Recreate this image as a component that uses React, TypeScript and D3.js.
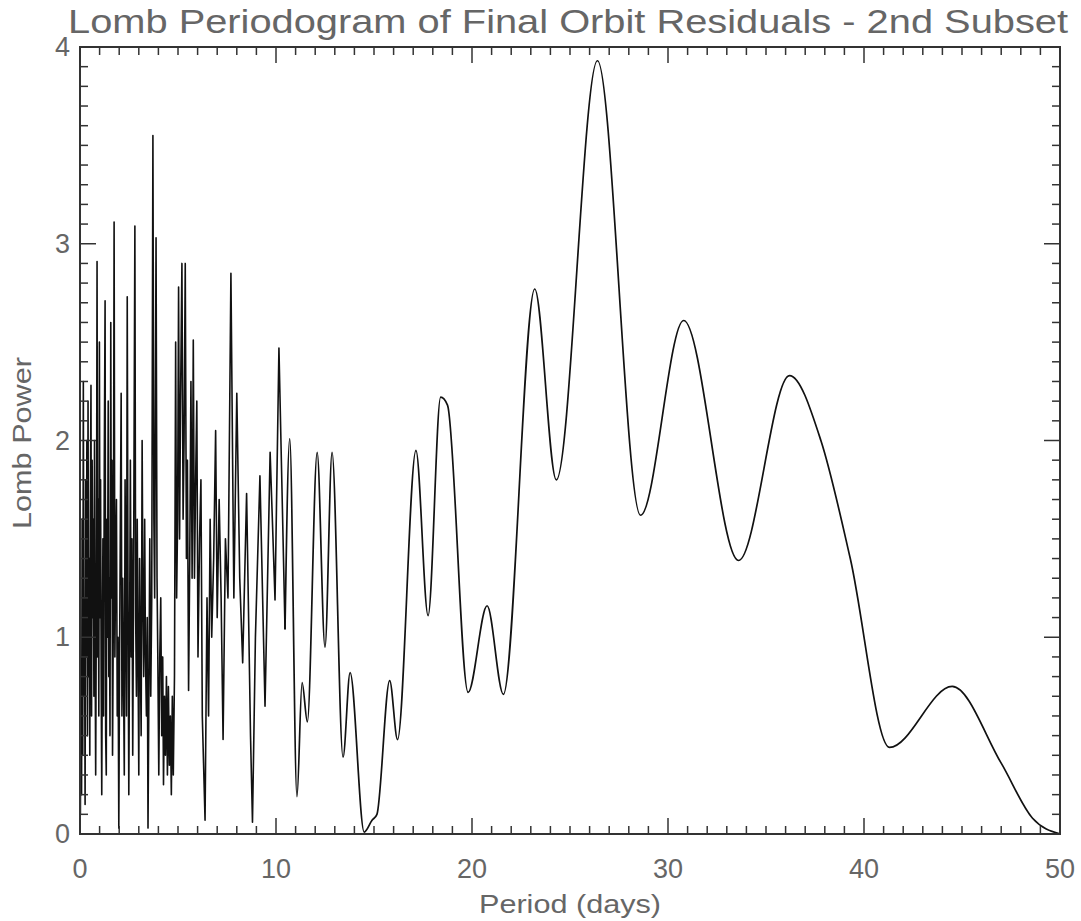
import React from "react";
import * as d3 from "d3";

const TITLE = "Lomb Periodogram of Final Orbit Residuals - 2nd Subset";
const X_LABEL = "Period (days)";
const Y_LABEL = "Lomb Power";
const X_TICKS = [0, 10, 20, 30, 40, 50];
const Y_TICKS = [0, 1, 2, 3, 4];

// Dense, noisy short-period part (period in days, Lomb power)
const densePeriods = [
  0.02, 0.05, 0.08, 0.11, 0.14, 0.17, 0.2, 0.23, 0.26, 0.29, 0.32, 0.35, 0.38, 0.41, 0.44, 0.47, 0.5, 0.53, 0.56,
  0.59, 0.62, 0.65, 0.68, 0.71, 0.74, 0.77, 0.8, 0.84, 0.87, 0.9, 0.93, 0.96, 0.99, 1.02, 1.05, 1.08, 1.11, 1.14,
  1.17, 1.2, 1.24, 1.28, 1.31, 1.34, 1.37, 1.4, 1.44, 1.47, 1.5, 1.53, 1.57, 1.6, 1.63, 1.66, 1.7, 1.74, 1.78,
  1.82, 1.86, 1.9, 1.94, 1.98, 2.02, 2.06, 2.1, 2.14, 2.18, 2.22, 2.26, 2.3, 2.34, 2.37, 2.41, 2.45, 2.49, 2.53,
  2.57, 2.61, 2.65, 2.69, 2.73, 2.8, 2.84, 2.88, 2.92, 2.96, 3.0, 3.04, 3.08, 3.12, 3.17, 3.21, 3.25, 3.3, 3.34,
  3.39, 3.43, 3.47, 3.52, 3.56, 3.61, 3.66, 3.72, 3.77, 3.81, 3.88, 3.93, 3.97, 4.02, 4.07, 4.12, 4.17, 4.22,
  4.26, 4.31, 4.36, 4.41, 4.46, 4.51, 4.56, 4.61, 4.66, 4.71, 4.76, 4.82, 4.88, 4.93, 4.98, 5.03, 5.08, 5.13,
  5.2, 5.26, 5.31, 5.37, 5.43, 5.48, 5.54, 5.6, 5.66, 5.72, 5.78, 5.84, 5.9, 5.96, 6.02, 6.1, 6.17, 6.24, 6.38,
  6.48, 6.56, 6.64, 6.72, 6.82, 6.92, 7.0, 7.1, 7.2, 7.3, 7.42, 7.55, 7.7, 7.85, 8.0, 8.15, 8.3, 8.5, 8.7, 8.8,
  8.95, 9.18, 9.44, 9.7, 9.95, 10.15, 10.46,
];
const densePowers = [
  0.1, 0.9, 0.2, 1.6, 0.4, 2.3, 0.7, 1.2, 0.15, 1.8, 0.9, 2.0, 0.5, 2.2, 0.8, 1.4, 0.4, 1.7, 2.28,
  0.6, 1.9, 1.1, 1.6, 0.7, 2.0, 1.0, 0.3, 1.3, 2.91, 0.9, 1.7, 0.6, 2.5, 1.1, 1.8, 0.8, 0.2, 1.0,
  1.5, 0.6, 1.9, 2.71, 0.5, 0.3, 1.6, 1.0, 2.2, 0.8, 1.3, 0.5, 2.6, 1.2, 1.9, 0.4, 1.1, 3.11, 0.9,
  1.4, 1.7, 0.6, 1.0, 0.03, 0.9, 1.6, 2.24, 0.6, 1.3, 0.8, 0.3, 1.8, 1.1, 0.6, 2.73, 1.2, 0.2, 1.0,
  1.9, 0.9, 1.5, 0.4, 1.2, 3.09, 1.1, 0.7, 1.6, 0.9, 0.3, 1.4, 0.9, 0.5, 2.0, 1.2, 0.8, 1.6, 0.9,
  0.6, 1.1, 0.03, 0.8, 1.5, 0.7, 1.2, 3.55, 1.6, 1.2, 3.03, 1.3, 0.9, 0.3, 0.9, 1.2, 0.5, 0.9,
  0.25, 0.7, 0.4, 0.8, 0.3, 0.75, 0.35, 0.6, 0.2, 0.7, 0.3, 0.8, 2.5, 1.2, 1.6, 2.78, 1.5, 2.2,
  2.9, 1.6, 2.0, 2.9, 1.4, 1.9, 0.73, 1.4, 2.3, 1.3, 2.51, 1.3, 1.8, 2.2, 0.9, 1.5, 1.8, 0.6, 0.07,
  1.2, 0.6, 1.6, 1.0, 1.4, 2.05, 1.1, 1.7, 1.2, 0.48, 1.5, 1.2, 2.85, 1.2, 2.24, 1.3, 0.87, 1.73, 0.5, 0.06,
  1.0, 1.82, 0.65, 1.94, 1.19, 2.47, 1.04,
];

// Smooth long-period part (mostly the local maxima and minima)
const smoothPeriods = [
  10.46, 10.7, 11.07, 11.33, 11.6, 12.1, 12.5, 12.86, 13.42, 13.78, 14.5, 14.9, 15.15, 15.8, 16.2,
  17.14, 17.76, 18.4, 18.75, 19.8, 20.77, 21.6, 23.2, 24.3, 26.4, 28.6, 30.8, 33.6, 36.2, 37.8,
  39.3, 41.3, 44.5, 47.0, 48.6, 50.0,
];
const smoothPowers = [
  1.04, 2.01, 0.19, 0.77, 0.57, 1.94, 0.95, 1.94, 0.39, 0.82, 0.01, 0.07, 0.1, 0.78, 0.48,
  1.95, 1.11, 2.22, 2.18, 0.72, 1.16, 0.71, 2.77, 1.8, 3.93, 1.62, 2.61, 1.39, 2.33, 2.0,
  1.4, 0.44, 0.75, 0.36, 0.08, 0.0,
];

const W = 1081;
const H = 921;
const M = { left: 80, right: 1060, top: 47, bottom: 834 };

export default function App() {
  const x = d3.scaleLinear().domain([0, 50]).range([M.left, M.right]);
  const y = d3.scaleLinear().domain([0, 4]).range([M.bottom, M.top]);

  const dense: [number, number][] = densePeriods.map((p, i) => [p, densePowers[i]]);
  const smooth: [number, number][] = smoothPeriods.map((p, i) => [p, smoothPowers[i]]);

  const denseLine = d3
    .line<[number, number]>()
    .x((d) => x(d[0]))
    .y((d) => y(d[1]))
    .curve(d3.curveLinear);
  const smoothLine = d3
    .line<[number, number]>()
    .x((d) => x(d[0]))
    .y((d) => y(d[1]))
    .curve(d3.curveMonotoneX);

  const xMinor = d3.range(0, 51, 1);
  const yMinor = d3.range(0, 41, 1).map((v) => v / 10);
  const textColor = "#666";
  const font = "'Liberation Sans', Arial, sans-serif";

  return (
    <svg width={W} height={H} style={{ position: "absolute", left: 0, top: 0, background: "#fff" }}>
      <text x={568} y={33} fontFamily={font} fontSize={33} fill={textColor} textAnchor="middle" textLength={1000} lengthAdjust="spacingAndGlyphs">
        {TITLE}
      </text>
      <defs>
        <clipPath id="plotclip">
          <rect x={M.left} y={M.top} width={M.right - M.left} height={M.bottom - M.top} />
        </clipPath>
      </defs>
      <g clipPath="url(#plotclip)">
        <path d={denseLine(dense) || ""} fill="none" stroke="#111" strokeWidth={1.6} strokeLinejoin="round" />
        <path d={smoothLine(smooth) || ""} fill="none" stroke="#111" strokeWidth={1.7} />
      </g>
      <rect x={M.left} y={M.top} width={M.right - M.left} height={M.bottom - M.top} fill="none" stroke="#333" strokeWidth={2} />
      {xMinor.map((v) => {
        const major = v % 10 === 0;
        const len = major ? 16 : 8;
        return (
          <g key={"xt" + v} stroke="#333" strokeWidth={1.5}>
            <line x1={x(v)} x2={x(v)} y1={M.bottom} y2={M.bottom - len} />
            <line x1={x(v)} x2={x(v)} y1={M.top} y2={M.top + len} />
          </g>
        );
      })}
      {yMinor.map((v, i) => {
        const major = i % 10 === 0;
        const len = major ? 16 : 8;
        return (
          <g key={"yt" + i} stroke="#333" strokeWidth={1.5}>
            <line x1={M.left} x2={M.left + len} y1={y(v)} y2={y(v)} />
            <line x1={M.right} x2={M.right - len} y1={y(v)} y2={y(v)} />
          </g>
        );
      })}
      {X_TICKS.map((v) => (
        <text key={"xl" + v} x={x(v)} y={878} fontFamily={font} fontSize={27} fill={textColor} textAnchor="middle">
          {v}
        </text>
      ))}
      {Y_TICKS.map((v) => (
        <text key={"yl" + v} x={70} y={y(v) + 9} fontFamily={font} fontSize={27} fill={textColor} textAnchor="end">
          {v}
        </text>
      ))}
      <text x={570} y={913} fontFamily={font} fontSize={26} fill={textColor} textAnchor="middle" textLength={182} lengthAdjust="spacingAndGlyphs">
        {X_LABEL}
      </text>
      <text transform={`translate(31, 443) rotate(-90)`} fontFamily={font} fontSize={26} fill={textColor} textAnchor="middle" textLength={172} lengthAdjust="spacingAndGlyphs">
        {Y_LABEL}
      </text>
    </svg>
  );
}
